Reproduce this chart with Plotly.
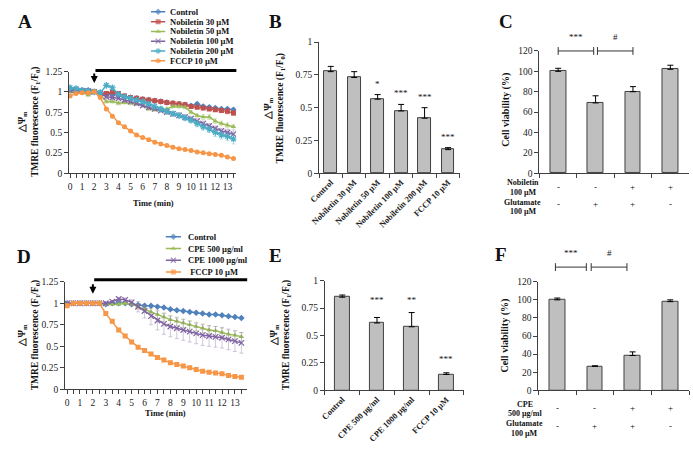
import plotly.graph_objects as go

W, H = 693, 454
SERIF = "Liberation Serif"

# ---------------- Panel A data ----------------
time_a = [0, 0.5, 1, 1.5, 2, 2.5, 3, 3.5, 4, 4.5, 5, 5.5, 6, 6.5, 7, 7.5, 8, 8.5,
          9, 9.5, 10, 10.5, 11, 11.5, 12, 12.5, 13, 13.5]
a_names = ["Control", "Nobiletin 30 µM", "Nobiletin 50 µM", "Nobiletin 100 µM",
           "Nobiletin 200 µM", "FCCP 10 µM"]
a_control = [1.04, 1.03, 1.02, 1.02, 1.00, 0.99, 0.97, 0.98, 0.96, 0.94, 0.93, 0.92, 0.91, 0.90,
             0.89, 0.88, 0.87, 0.86, 0.85, 0.84, 0.83, 0.85, 0.82, 0.81, 0.80, 0.79, 0.79, 0.78]
a_nob30 = [1.02, 1.02, 1.01, 1.00, 1.00, 0.98, 0.98, 1.00, 0.98, 0.95, 0.93, 0.92, 0.91, 0.90,
           0.89, 0.88, 0.87, 0.86, 0.85, 0.84, 0.82, 0.81, 0.80, 0.79, 0.78, 0.77, 0.76, 0.74]
a_nob50 = [1.00, 1.00, 1.00, 0.96, 1.00, 0.97, 0.88, 0.88, 0.86, 0.87, 0.86, 0.85, 0.84, 0.79,
           0.78, 0.78, 0.79, 0.82, 0.82, 0.81, 0.75, 0.71, 0.69, 0.69, 0.64, 0.61, 0.59, 0.57]
a_nob100 = [1.02, 1.02, 1.01, 1.01, 1.00, 0.98, 0.94, 0.93, 0.92, 0.90, 0.88, 0.86, 0.83, 0.81,
            0.79, 0.77, 0.75, 0.73, 0.71, 0.69, 0.67, 0.64, 0.61, 0.58, 0.55, 0.52, 0.50, 0.48]
a_nob200 = [1.05, 1.04, 1.02, 1.01, 1.00, 0.99, 1.08, 1.05, 0.97, 0.94, 0.92, 0.90, 0.88, 0.85,
            0.82, 0.79, 0.76, 0.73, 0.71, 0.68, 0.65, 0.61, 0.57, 0.54, 0.50, 0.47, 0.45, 0.42]
a_fccp = [0.95, 0.98, 0.99, 0.99, 1.00, 0.93, 0.79, 0.70, 0.62, 0.57, 0.52, 0.47, 0.44, 0.41,
          0.38, 0.36, 0.34, 0.32, 0.30, 0.29, 0.28, 0.26, 0.25, 0.24, 0.23, 0.22, 0.20, 0.18]
a_control_err = [0.02, 0.02, 0.01, 0.01, 0.01, 0.01, 0.02, 0.02, 0.02, 0.02, 0.02, 0.02, 0.02, 0.02,
                 0.02, 0.02, 0.02, 0.02, 0.02, 0.02, 0.02, 0.02, 0.02, 0.02, 0.02, 0.02, 0.02, 0.02]
a_nob30_err = [0.02, 0.02, 0.01, 0.01, 0.01, 0.01, 0.02, 0.02, 0.02, 0.02, 0.02, 0.02, 0.02, 0.02,
               0.02, 0.02, 0.02, 0.02, 0.02, 0.02, 0.02, 0.02, 0.02, 0.02, 0.02, 0.02, 0.03, 0.03]
a_nob50_err = [0.02, 0.02, 0.01, 0.02, 0.01, 0.02, 0.02, 0.02, 0.02, 0.02, 0.02, 0.02, 0.02, 0.02,
               0.02, 0.02, 0.02, 0.02, 0.02, 0.02, 0.02, 0.02, 0.03, 0.03, 0.03, 0.03, 0.03, 0.03]
a_nob100_err = [0.03, 0.02, 0.02, 0.01, 0.01, 0.02, 0.02, 0.02, 0.02, 0.02, 0.02, 0.02, 0.02, 0.02,
                0.02, 0.02, 0.02, 0.02, 0.03, 0.03, 0.03, 0.03, 0.03, 0.03, 0.03, 0.03, 0.04, 0.04]
a_nob200_err = [0.03, 0.02, 0.02, 0.01, 0.01, 0.02, 0.02, 0.02, 0.02, 0.02, 0.02, 0.02, 0.02, 0.03,
                0.03, 0.03, 0.03, 0.03, 0.03, 0.03, 0.03, 0.04, 0.04, 0.04, 0.05, 0.05, 0.05, 0.06]
a_fccp_err = [0.01, 0.01, 0.01, 0.01, 0.01, 0.01, 0.01, 0.01, 0.01, 0.01, 0.01, 0.01, 0.01, 0.01,
              0.01, 0.01, 0.01, 0.01, 0.01, 0.01, 0.01, 0.01, 0.01, 0.01, 0.01, 0.01, 0.01, 0.01]

# ---------------- Panel B data ----------------
b_cats = ["Control", "Nobiletin 30 µM", "Nobiletin 50 µM", "Nobiletin 100 µM",
          "Nobiletin 200 µM", "FCCP 10 µM"]
b_vals = [0.775, 0.73, 0.565, 0.475, 0.42, 0.18]
b_err = [0.04, 0.045, 0.035, 0.05, 0.08, 0.015]
b_stars = ["", "", "*", "***", "***", "***"]

# ---------------- Panel C data ----------------
c_cats = ["Control", "Glutamate", "Nobiletin + Glutamate", "Nobiletin"]
c_vals = [100, 69, 80, 102]
c_err = [3, 7, 5, 4]
c_nob = ["-", "-", "+", "+"]
c_glu = ["-", "+", "+", "-"]

# ---------------- Panel D data ----------------
time_d = [0, 0.5, 1, 1.5, 2, 2.5, 3, 3.5, 4, 4.5, 5, 5.5, 6, 6.5, 7, 7.5, 8, 8.5,
          9, 9.5, 10, 10.5, 11, 11.5, 12, 12.5, 13, 13.5]
d_names = ["Control", "CPE 500 µg/ml", "CPE 1000 µg/ml", " FCCP 10 µM"]
d_control = [1.00, 1.00, 1.00, 1.00, 1.00, 1.00, 0.99, 1.00, 1.00, 1.00, 0.99, 0.98, 0.97, 0.97,
             0.96, 0.95, 0.93, 0.92, 0.91, 0.90, 0.89, 0.88, 0.87, 0.87, 0.86, 0.85, 0.84, 0.83]
d_cpe500 = [1.00, 1.00, 1.00, 1.00, 1.00, 1.00, 0.99, 0.99, 0.99, 1.00, 0.99, 0.96, 0.93, 0.90,
            0.87, 0.84, 0.81, 0.79, 0.77, 0.75, 0.73, 0.71, 0.69, 0.68, 0.66, 0.64, 0.63, 0.61]
d_cpe1000 = [1.00, 1.00, 1.00, 1.00, 1.00, 1.00, 1.00, 1.02, 1.05, 1.04, 1.01, 0.96, 0.91, 0.85,
             0.80, 0.76, 0.73, 0.71, 0.69, 0.67, 0.65, 0.63, 0.62, 0.61, 0.60, 0.58, 0.56, 0.54]
d_fccp = [0.97, 1.00, 1.00, 1.00, 1.00, 1.00, 0.88, 0.79, 0.69, 0.62, 0.55, 0.49, 0.45, 0.41,
          0.37, 0.34, 0.31, 0.29, 0.27, 0.25, 0.23, 0.21, 0.20, 0.19, 0.18, 0.16, 0.15, 0.14]
d_control_err = [0.01, 0.01, 0.01, 0.01, 0.01, 0.01, 0.01, 0.01, 0.01, 0.01, 0.01, 0.01, 0.01, 0.01,
                 0.01, 0.01, 0.01, 0.01, 0.01, 0.01, 0.01, 0.01, 0.01, 0.01, 0.01, 0.01, 0.01, 0.01]
d_cpe500_err = [0.01, 0.01, 0.01, 0.01, 0.01, 0.01, 0.01, 0.01, 0.01, 0.01, 0.02, 0.03, 0.04, 0.04,
                0.05, 0.05, 0.05, 0.05, 0.05, 0.05, 0.05, 0.05, 0.05, 0.05, 0.05, 0.05, 0.05, 0.05]
d_cpe1000_err = [0.01, 0.01, 0.01, 0.01, 0.01, 0.01, 0.01, 0.01, 0.02, 0.02, 0.03, 0.06, 0.08, 0.10,
                 0.11, 0.12, 0.12, 0.12, 0.12, 0.12, 0.12, 0.12, 0.12, 0.12, 0.12, 0.12, 0.12, 0.12]
d_fccp_err = [0.02, 0.01, 0.01, 0.01, 0.01, 0.01, 0.02, 0.02, 0.02, 0.02, 0.02, 0.02, 0.02, 0.02,
              0.02, 0.02, 0.02, 0.02, 0.02, 0.02, 0.02, 0.02, 0.01, 0.01, 0.01, 0.01, 0.01, 0.01]

# ---------------- Panel E data ----------------
e_cats = ["Control", "CPE 500 µg/ml", "CPE 1000 µg/ml", "FCCP 10 µM"]
e_vals = [0.85, 0.615, 0.58, 0.145]
e_err = [0.02, 0.05, 0.13, 0.015]
e_stars = ["", "***", "**", "***"]

# ---------------- Panel F data ----------------
f_cats = ["Control", "Glutamate", "CPE + Glutamate", "CPE"]
f_vals = [100, 26.5, 38.5, 98]
f_err = [2, 0.6, 4, 2]
f_cpe = ["-", "-", "+", "+"]
f_glu = ["-", "+", "+", "-"]

# ---------------- styling ----------------
a_colors = ["#4F81BD", "#C0504D", "#9BBB59", "#8064A2", "#4BACC6", "#F79646"]
a_symbols = ["diamond", "square", "triangle-up", "x-thin-open", "asterisk-open", "circle"]
d_colors = ["#4F81BD", "#9BBB59", "#8064A2", "#F79646"]
d_symbols = ["diamond", "triangle-up", "x-thin-open", "square"]
BAR_FILL = "#BFBFBF"
BAR_LINE = "#404040"
AX = "#404040"


def px(x):
    return x / W


def py(y):
    return 1 - y / H


def err_color(hexc):
    r, g, b = int(hexc[1:3], 16), int(hexc[3:5], 16), int(hexc[5:7], 16)
    return f"rgba({r},{g},{b},0.45)"


fig = go.Figure()


def add_lines(series, errs, names, colors, symbols, times, xa, ya, lx, ly):
    for i, (vals, er) in enumerate(zip(series, errs)):
        sym = symbols[i]
        open_sym = sym.endswith("-open")
        fig.add_trace(go.Scatter(
            x=times, y=vals, mode="lines+markers", name=names[i], showlegend=False,
            xaxis=xa, yaxis=ya,
            line=dict(color=colors[i], width=1.5),
            marker=dict(symbol=sym, size=5 if not open_sym else 5.5, color=colors[i],
                        line=dict(color=colors[i], width=1.2 if open_sym else 0)),
            error_y=dict(type="data", array=er, color=err_color(colors[i]),
                         thickness=0.8, width=2),
        ))
        # legend sample (hidden helper axes)
        fig.add_trace(go.Scatter(
            x=[0, 0.5, 1], y=[i, i, i], mode="lines+markers", showlegend=False,
            hoverinfo="skip", xaxis=lx, yaxis=ly,
            line=dict(color=colors[i], width=1.5),
            marker=dict(symbol=sym, size=[0, 5, 0], color=colors[i],
                        line=dict(color=colors[i], width=1.2 if open_sym else 0)),
        ))


add_lines([a_control, a_nob30, a_nob50, a_nob100, a_nob200, a_fccp],
          [a_control_err, a_nob30_err, a_nob50_err, a_nob100_err, a_nob200_err, a_fccp_err],
          a_names, a_colors, a_symbols, time_a, "x", "y", "x7", "y7")
add_lines([d_control, d_cpe500, d_cpe1000, d_fccp],
          [d_control_err, d_cpe500_err, d_cpe1000_err, d_fccp_err],
          d_names, d_colors, d_symbols, time_d, "x4", "y4", "x8", "y8")


def add_bars(cats, vals, err, width, xa, ya):
    fig.add_trace(go.Bar(
        x=cats, y=vals, width=width, xaxis=xa, yaxis=ya, showlegend=False,
        marker=dict(color=BAR_FILL, line=dict(color=BAR_LINE, width=1)),
        error_y=dict(type="data", array=err, arrayminus=[0] * len(err), symmetric=False,
                     color="#000", thickness=1, width=3),
    ))


add_bars(b_cats, b_vals, b_err, 0.55, "x2", "y2")
add_bars(c_cats, c_vals, c_err, 0.42, "x3", "y3")
add_bars(e_cats, e_vals, e_err, 0.43, "x5", "y5")
add_bars(f_cats, f_vals, f_err, 0.42, "x6", "y6")

tickfont = dict(family=SERIF, size=9.5, color="#222")


def xline(dom, rng, anchor, dtick=1):
    return dict(domain=[px(dom[0]), px(dom[1])], range=rng, anchor=anchor,
                showline=True, linecolor=AX, linewidth=1, ticks="outside", ticklen=4,
                tickcolor=AX, showgrid=False, zeroline=False, dtick=dtick, tick0=0,
                tickfont=tickfont,
                minor=dict(ticks="outside", dtick=0.5, tick0=0, ticklen=4, tickcolor=AX,
                           showgrid=False))


def xcat(dom, anchor, labels=True):
    return dict(domain=[px(dom[0]), px(dom[1])], anchor=anchor, type="category",
                showline=True, linecolor=AX, linewidth=1, ticks="outside", ticklen=4,
                tickcolor=AX, tickson="boundaries", showgrid=False, zeroline=False,
                showticklabels=labels, tickangle=-45,
                tickfont=dict(family=SERIF, size=8.5, color="#222", weight="bold"))


def yax(dom, rng, dtick, anchor):
    return dict(domain=[py(dom[0]), py(dom[1])], range=rng, dtick=dtick, tick0=0,
                anchor=anchor, showline=True, linecolor=AX, linewidth=1, ticks="outside",
                ticklen=4, tickcolor=AX, showgrid=False, zeroline=False, tickfont=tickfont)


hidden = dict(visible=False, showgrid=False, zeroline=False, fixedrange=True)

A_X = (59, 229)
A_RX = [-0.08, 13.74]
D_X = (55, 240)
D_RX = [-0.15, 13.95]

fig.update_layout(
    width=W, height=H, margin=dict(l=0, r=0, t=0, b=0),
    paper_bgcolor="white", plot_bgcolor="white", showlegend=False,
    bargap=0,
    xaxis=xline(A_X, A_RX, "y"),
    yaxis=yax((172, 68), [0, 1.25], 0.25, "x"),
    xaxis2=xcat((313, 456), "y2"),
    yaxis2=yax((172, 38), [0, 1], 0.25, "x2"),
    xaxis3=xcat((537, 689), "y3", labels=False),
    yaxis3=yax((172, 47), [0, 120], 20, "x3"),
    xaxis4=xline(D_X, D_RX, "y4"),
    yaxis4=yax((393, 283), [0, 1.25], 0.25, "x4"),
    xaxis5=xcat((319, 460), "y5"),
    yaxis5=yax((394, 282), [0, 1], 0.25, "x5"),
    xaxis6=xcat((536, 689), "y6", labels=False),
    yaxis6=yax((394, 283), [0, 120], 20, "x6"),
    xaxis7=dict(hidden, domain=[px(142), px(157)], range=[0, 1], anchor="y7"),
    yaxis7=dict(hidden, domain=[py(62), py(2)], range=[5.5, -0.5], anchor="x7"),
    xaxis8=dict(hidden, domain=[px(157), px(173)], range=[0, 1], anchor="y8"),
    yaxis8=dict(hidden, domain=[py(279), py(231)], range=[3.5, -0.5], anchor="x8"),
)

ann = []


def text(x, y, s, size=9, bold=False, xanchor="center", yanchor="middle", angle=0):
    ann.append(dict(x=px(x), y=py(y), xref="paper", yref="paper", text=s, showarrow=False,
                    xanchor=xanchor, yanchor=yanchor, textangle=angle,
                    font=dict(family=SERIF, size=size, color="#111",
                              weight="bold" if bold else "normal")))


# panel letters
for letter, (lx_, ly_) in zip("ABCDEF", [(14, 17), (269, 17), (503, 17),
                                          (13, 257), (269, 256), (498, 255)]):
    text(lx_, ly_, letter, size=19, bold=True)

# legend texts
for i, n in enumerate(a_names):
    text(160, 7 + 10 * i, n, size=8.5, bold=True, xanchor="left")
for i, n in enumerate(d_names):
    text(178, 237 + 12 * i, n, size=8.5, bold=True, xanchor="left")

# axis titles
ytitle_tmre = "△Ψ<sub>m</sub><br>TMRE fluorescence (F<sub>1</sub>/F<sub>0</sub>)"
text(18, 120, ytitle_tmre, size=9.5, bold=True, angle=-90)
text(268, 106, ytitle_tmre, size=9.5, bold=True, angle=-90)
text(18, 338, ytitle_tmre, size=9.5, bold=True, angle=-90)
text(274, 338, ytitle_tmre, size=9.5, bold=True, angle=-90)
text(503, 107, "Cell viability (%)", size=10, bold=True, angle=-90)
text(502, 338, "Cell viability (%)", size=10, bold=True, angle=-90)
text(145, 202, "Time (min)", size=8.5, bold=True)
text(157, 417, "Time (min)", size=8.5, bold=True)

# significance stars on B / E
for i, s in enumerate(b_stars):
    if s:
        ann.append(dict(x=b_cats[i], y=b_vals[i] + b_err[i] + 0.03, xref="x2", yref="y2",
                        text=s, showarrow=False, yanchor="bottom",
                        font=dict(family=SERIF, size=9, color="#111")))
e_star_y = [0, 0.76, 0.76, 0.22]
for i, s in enumerate(e_stars):
    if s:
        ann.append(dict(x=e_cats[i], y=e_star_y[i], xref="x5", yref="y5",
                        text=s, showarrow=False, yanchor="bottom",
                        font=dict(family=SERIF, size=9, color="#111")))


def cat_px(dom, n, i):
    return dom[0] + (i + 0.5) * (dom[1] - dom[0]) / n


shapes = []


def bracket(dom, n, c0, c1, ypx, label):
    x0, x1 = cat_px(dom, n, c0), cat_px(dom, n, c1)
    shapes.append(dict(type="line", xref="paper", yref="paper", x0=px(x0), x1=px(x1),
                       y0=py(ypx), y1=py(ypx), line=dict(color="#333", width=1)))
    for xx in (x0, x1):
        shapes.append(dict(type="line", xref="paper", yref="paper", x0=px(xx), x1=px(xx),
                           y0=py(ypx - 4), y1=py(ypx + 4), line=dict(color="#333", width=1)))
    text((x0 + x1) / 2, ypx - 14, label, size=9)


C_X = (537, 689)
F_X = (536, 689)
bracket(C_X, 4, 0, 0.95, 47, "***")
bracket(C_X, 4, 1.05, 2.0, 47, "#")
bracket(F_X, 4, -0.05, 0.77, 268, "***")
bracket(F_X, 4, 0.9, 1.85, 268, "#")

# treatment rows under C and F
text(520, 182, "Nobiletin", size=8, bold=True)
text(521, 192, "100 µM", size=8, bold=True)
text(520, 202, "Glutamate", size=8, bold=True)
text(521, 211, "100 µM", size=8, bold=True)
for i in range(4):
    text(cat_px(C_X, 4, i), 186, c_nob[i], size=9)
    text(cat_px(C_X, 4, i), 203, c_glu[i], size=9)
text(522, 409, "CPE", size=8, bold=True)
text(522, 418, "500 µg/ml", size=8, bold=True)
text(522, 428, "Glutamate", size=8, bold=True)
text(522, 438, "100 µM", size=8, bold=True)
for i in range(4):
    text(cat_px(F_X, 4, i), 412, f_cpe[i], size=9)
    text(cat_px(F_X, 4, i), 430, f_glu[i], size=9)


# treatment start bars and arrows on A / D
def t_to_px(dom, rng, t):
    return dom[0] + (t - rng[0]) / (rng[1] - rng[0]) * (dom[1] - dom[0])


shapes.append(dict(type="line", xref="paper", yref="paper",
                   x0=px(t_to_px(A_X, A_RX, 2.1)), x1=px(A_X[1]), y0=py(67), y1=py(67),
                   line=dict(color="#000", width=3)))
shapes.append(dict(type="line", xref="paper", yref="paper",
                   x0=px(t_to_px(D_X, D_RX, 2.1)), x1=px(D_X[1]), y0=py(281), y1=py(281),
                   line=dict(color="#000", width=3)))
for xa, ya in (("x", "y"), ("x4", "y4")):
    ann.append(dict(x=2, y=1.11, xref=xa, yref=ya, ax=0, ay=-11, text="", showarrow=True,
                    arrowhead=2, arrowsize=0.7, arrowwidth=2, arrowcolor="#000", standoff=0))

fig.update_layout(annotations=ann, shapes=shapes)
fig.write_html("out.html", config={"displayModeBar": False, "staticPlot": False},
               post_script="document.body.style.margin='0';document.body.style.overflow='hidden';")
